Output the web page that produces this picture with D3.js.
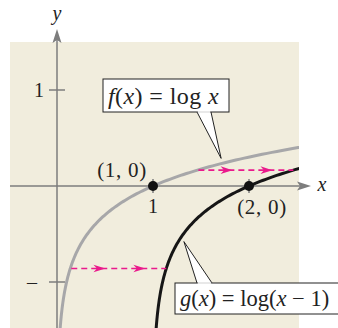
<!DOCTYPE html>
<html lang="en">
<head>
<meta charset="UTF-8">
<title>log x and log(x - 1)</title>
<style>
  html, body { margin: 0; padding: 0; background: #fff; }
  svg { display: block; }
  text { font-family: "Liberation Serif", "Times New Roman", serif; fill: #222; }
</style>
</head>
<body>
<script src="https://cdn.jsdelivr.net/npm/d3@7"></script>
<script>
// chart values
const xTicks = [1, 2];
const yTicks = [1, -1];
const yTickLabels = ['1', '\u2013'];
const keyPoints = [[1, 0], [2, 0]];
const pointLabels = ['(1, 0)', '(2, 0)'];
const shiftLevels = [0.165, -0.86];   // y values of the dashed horizontal shifts
const shift = 1;

const W = 338, H = 328;
const plot = {left: 10, right: 299, top: 42, bottom: 328};

const svg = d3.select('body').append('svg')
  .attr('width', W).attr('height', H);

// scales: 1 unit = 96px
const x = d3.scaleLinear().domain([0, 2]).range([57, 249]);
const y = d3.scaleLinear().domain([0, 1]).range([186, 90]);

const f = v => Math.log10(v);
const g = v => Math.log10(v - shift);

svg.append('rect')
  .attr('x', plot.left).attr('y', plot.top)
  .attr('width', plot.right - plot.left).attr('height', plot.bottom - plot.top)
  .attr('fill', '#f1eddd');

svg.append('clipPath').attr('id', 'plotClip')
  .append('rect')
  .attr('x', plot.left).attr('y', plot.top)
  .attr('width', plot.right - plot.left).attr('height', plot.bottom - plot.top);

const axisColor = '#7d7d7d';

// x axis
svg.append('line')
  .attr('x1', plot.left).attr('x2', 300)
  .attr('y1', y(0)).attr('y2', y(0))
  .attr('stroke', axisColor).attr('stroke-width', 1.5);
svg.append('path')
  .attr('d', `M311,${y(0)} L297,${y(0) - 4.5} L300,${y(0)} L297,${y(0) + 4.5} Z`)
  .attr('fill', axisColor);
svg.append('text')
  .attr('x', 322).attr('y', y(0) + 5)
  .attr('text-anchor', 'middle')
  .attr('font-size', 20).attr('font-style', 'italic')
  .text('x');

// y axis
svg.append('line')
  .attr('x1', x(0)).attr('x2', x(0))
  .attr('y1', plot.bottom).attr('y2', 40)
  .attr('stroke', axisColor).attr('stroke-width', 1.5);
svg.append('path')
  .attr('d', `M${x(0)},29 L${x(0) - 4.5},43 L${x(0)},40 L${x(0) + 4.5},43 Z`)
  .attr('fill', axisColor);
svg.append('text')
  .attr('x', x(0)).attr('y', 20)
  .attr('text-anchor', 'middle')
  .attr('font-size', 20).attr('font-style', 'italic')
  .text('y');

// y ticks
svg.selectAll('.ytick').data(yTicks).join('line')
  .attr('class', 'ytick')
  .attr('x1', x(0) - 8).attr('x2', x(0) + 8)
  .attr('y1', d => y(d)).attr('y2', d => y(d))
  .attr('stroke', axisColor).attr('stroke-width', 1.5);
svg.selectAll('.ylab').data(yTicks).join('text')
  .attr('class', 'ylab')
  .attr('x', (d, i) => i === 0 ? 44 : 37)
  .attr('y', d => y(d) + 7)
  .attr('text-anchor', 'end')
  .attr('font-size', 20)
  .text((d, i) => yTickLabels[i]);

// x ticks
svg.selectAll('.xtick').data(xTicks).join('line')
  .attr('class', 'xtick')
  .attr('x1', d => x(d)).attr('x2', d => x(d))
  .attr('y1', y(0) - 7).attr('y2', y(0) + 7)
  .attr('stroke', axisColor).attr('stroke-width', 1.5);
svg.append('text')
  .attr('x', x(1)).attr('y', y(0) + 27)
  .attr('text-anchor', 'middle')
  .attr('font-size', 20)
  .text(xTicks[0]);

// curves
const curves = svg.append('g').attr('clip-path', 'url(#plotClip)');
const line = d3.line().x(d => x(d[0])).y(d => y(d[1]));

const fxs = d3.range(-4, Math.log10(3.2), 0.01).map(e => Math.pow(10, e));
curves.append('path')
  .datum(fxs.map(v => [v, f(v)]))
  .attr('d', line)
  .attr('fill', 'none').attr('stroke', '#a7a7a9').attr('stroke-width', 3);
curves.append('path')
  .datum(fxs.map(v => [v + shift, g(v + shift)]))
  .attr('d', line)
  .attr('fill', 'none').attr('stroke', '#161616').attr('stroke-width', 3);

// dashed shift lines with arrowheads
const magenta = '#ea1a8c';
shiftLevels.forEach(level => {
  const x0 = Math.pow(10, level);
  const x1 = x0 + shift;
  const px0 = x(x0) + 1, px1 = x(x1), py = y(level);
  svg.append('line')
    .attr('x1', px0).attr('x2', px1)
    .attr('y1', py).attr('y2', py)
    .attr('stroke', magenta).attr('stroke-width', 1.6)
    .attr('stroke-dasharray', '6 4');
  [0.36, 0.78].forEach(t => {
    const tip = px0 + (px1 - px0) * t;
    svg.append('path')
      .attr('d', `M${tip},${py} L${tip - 12},${py - 3.8} L${tip - 8.5},${py} L${tip - 12},${py + 3.8} Z`)
      .attr('fill', magenta);
  });
});

// points
svg.selectAll('.pt').data(keyPoints).join('circle')
  .attr('class', 'pt')
  .attr('cx', d => x(d[0])).attr('cy', d => y(d[1]))
  .attr('r', 5).attr('fill', '#111');
svg.append('text')
  .attr('x', x(1) - 31).attr('y', y(0) - 9)
  .attr('text-anchor', 'middle').attr('font-size', 21)
  .attr('letter-spacing', 0.7)
  .text(pointLabels[0]);
svg.append('text')
  .attr('x', x(2) + 13).attr('y', y(0) + 28)
  .attr('text-anchor', 'middle').attr('font-size', 21)
  .attr('letter-spacing', 0.7)
  .text(pointLabels[1]);

// callouts
function callout(box, tail, parts, size, spacing) {
  const grp = svg.append('g');
  grp.append('path')
    .attr('d', `M${tail.a},${tail.base} L${tail.tx},${tail.ty} L${tail.b},${tail.base}`)
    .attr('fill', '#fff').attr('stroke', '#222').attr('stroke-width', 1);
  grp.append('rect')
    .attr('x', box.x).attr('y', box.y).attr('width', box.w).attr('height', box.h)
    .attr('fill', '#fff').attr('stroke', '#222').attr('stroke-width', 1);
  // cover the box edge where the tail joins
  grp.append('line')
    .attr('x1', tail.a + 0.8).attr('x2', tail.b - 0.8)
    .attr('y1', tail.base).attr('y2', tail.base)
    .attr('stroke', '#fff').attr('stroke-width', 1.6);
  const t = grp.append('text')
    .attr('x', box.x + 5).attr('y', box.y + box.h - 8)
    .attr('font-size', size)
    .attr('letter-spacing', spacing)
    .attr('xml:space', 'preserve');
  parts.forEach(p => {
    t.append('tspan').attr('font-style', p[1] ? 'italic' : 'normal').text(p[0]);
  });
}

callout({x: 103, y: 79, w: 126, h: 33},
  {a: 197, b: 211, base: 112, tx: x(1.72) - 1, ty: y(f(1.72)) - 5},
  [['f', true], ['(', false], ['x', true], [') = log ', false], ['x', true]], 24, 0.4);

callout({x: 175, y: 283, w: 170, h: 31},
  {a: 197, b: 212, base: 283, tx: x(1.27) + 5, ty: y(g(1.27)) + 1},
  [['g', true], ['(', false], ['x', true], [') = log(', false], ['x', true], [' \u2212 1)', false]], 22.5, 0);
</script>
</body>
</html>
